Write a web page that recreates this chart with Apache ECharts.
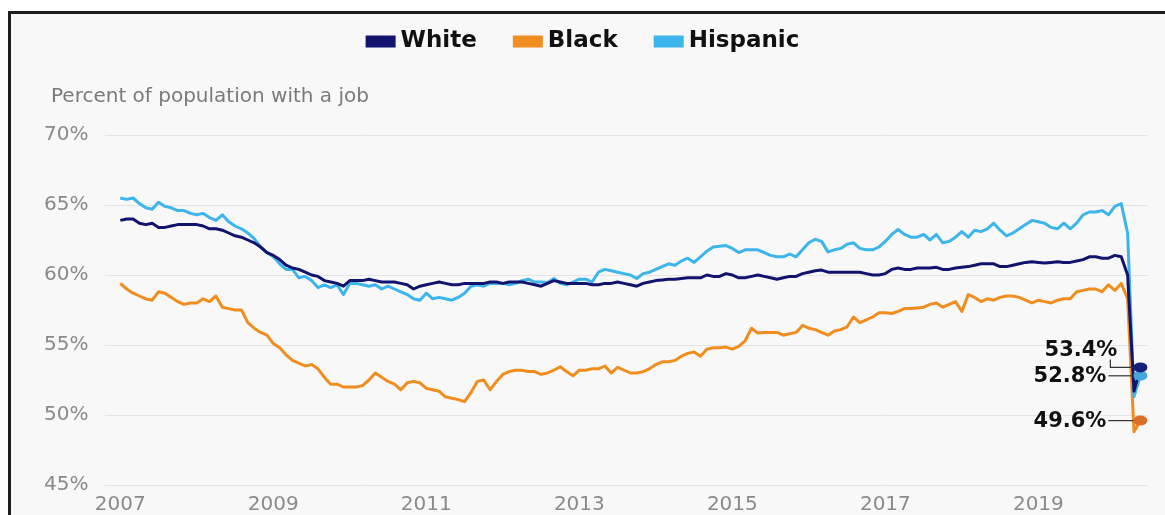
<!DOCTYPE html>
<html>
<head>
<meta charset="utf-8">
<title>Percent of population with a job</title>
<script src="https://cdn.jsdelivr.net/npm/echarts@6/dist/echarts.min.js"></script>
<style>
  html, body { margin: 0; padding: 0; background: #fff; overflow: hidden; }
  #frame {
    position: absolute; left: 8px; top: 11px; width: 1157px; height: 504px;
    box-sizing: border-box;
    background: #f8f8f8;
    border-left: 3px solid #1e1e1e;
    border-top: 3px solid #1e1e1e;
  }
  #chart { position: absolute; left: 0; top: 0; width: 1165px; height: 515px; }
</style>
</head>
<body>
<div id="frame"></div>
<div id="chart"></div>
<script>
  // monthly values, Jan 2007 .. May 2020 (one row per year)
  const firstYear = 2007;
  const tickYears = [2007, 2009, 2011, 2013, 2015, 2017, 2019];

  const white = [
    63.9, 64.0, 64.0, 63.7, 63.6, 63.7, 63.4, 63.4, 63.5, 63.6, 63.6, 63.6,
    63.6, 63.5, 63.3, 63.3, 63.2, 63.0, 62.8, 62.7, 62.5, 62.3, 62.0, 61.6,
    61.4, 61.1, 60.7, 60.5, 60.4, 60.2, 60.0, 59.9, 59.6, 59.5, 59.4, 59.2,
    59.6, 59.6, 59.6, 59.7, 59.6, 59.5, 59.5, 59.5, 59.4, 59.3, 59.0, 59.2,
    59.3, 59.4, 59.5, 59.4, 59.3, 59.3, 59.4, 59.4, 59.4, 59.4, 59.5, 59.5,
    59.4, 59.5, 59.5, 59.5, 59.4, 59.3, 59.2, 59.4, 59.6, 59.5, 59.4, 59.4,
    59.4, 59.4, 59.3, 59.3, 59.4, 59.4, 59.5, 59.4, 59.3, 59.2, 59.4, 59.5,
    59.6, 59.65, 59.7, 59.7, 59.75, 59.8, 59.8, 59.8, 60.0, 59.9, 59.9, 60.1,
    60.0, 59.8, 59.8, 59.9, 60.0, 59.9, 59.8, 59.7, 59.8, 59.9, 59.9, 60.1,
    60.2, 60.3, 60.35, 60.2, 60.2, 60.2, 60.2, 60.2, 60.2, 60.1, 60.0, 60.0,
    60.1, 60.4, 60.5, 60.4, 60.4, 60.5, 60.5, 60.5, 60.55, 60.4, 60.4, 60.5,
    60.55, 60.6, 60.7, 60.8, 60.8, 60.8, 60.6, 60.6, 60.7, 60.8, 60.9, 60.95,
    60.9, 60.85, 60.9, 60.95, 60.9, 60.9, 61.0, 61.1, 61.3, 61.3, 61.2, 61.2,
    61.4, 61.3, 60.0, 51.7, 53.4
  ];

  const black = [
    59.4, 59.0, 58.7, 58.5, 58.3, 58.2, 58.8, 58.7, 58.4, 58.1, 57.9, 58.0,
    58.0, 58.3, 58.1, 58.5, 57.7, 57.6, 57.5, 57.5, 56.6, 56.2, 55.9, 55.7,
    55.1, 54.8, 54.3, 53.9, 53.7, 53.5, 53.6, 53.3, 52.7, 52.2, 52.2, 52.0,
    52.0, 52.0, 52.1, 52.5, 53.0, 52.7, 52.4, 52.2, 51.8, 52.3, 52.4, 52.3,
    51.9, 51.8, 51.7, 51.3, 51.2, 51.1, 50.95, 51.6, 52.4, 52.5, 51.8, 52.4,
    52.9, 53.1, 53.2, 53.2, 53.1, 53.1, 52.9, 53.0, 53.2, 53.45, 53.1, 52.8,
    53.2, 53.2, 53.3, 53.3, 53.5, 53.0, 53.4, 53.2, 53.0, 53.0, 53.1, 53.3,
    53.6, 53.8, 53.8, 53.9, 54.2, 54.4, 54.5, 54.2, 54.7, 54.8, 54.8, 54.85,
    54.7, 54.9, 55.3, 56.2, 55.85, 55.9, 55.9, 55.9, 55.7, 55.8, 55.9, 56.4,
    56.2, 56.1, 55.9, 55.7, 56.0, 56.1, 56.3, 57.0, 56.6, 56.8, 57.0, 57.3,
    57.3, 57.25, 57.4, 57.6, 57.6, 57.65, 57.7, 57.9, 58.0, 57.7, 57.9, 58.1,
    57.4, 58.6, 58.4, 58.1, 58.3, 58.2, 58.4, 58.5, 58.5, 58.4, 58.2, 58.0,
    58.2, 58.1, 58.0, 58.2, 58.3, 58.3, 58.8, 58.9, 59.0, 59.0, 58.8, 59.3,
    58.9, 59.4, 58.3, 48.8, 49.6
  ];

  const hispanic = [
    65.5, 65.4, 65.5, 65.1, 64.8, 64.7, 65.2, 64.9, 64.8, 64.6, 64.6, 64.4,
    64.3, 64.4, 64.1, 63.9, 64.3, 63.8, 63.5, 63.3, 63.0, 62.6, 62.0, 61.6,
    61.3, 60.8, 60.4, 60.4, 59.8, 59.9, 59.6, 59.1, 59.3, 59.1, 59.3, 58.6,
    59.4, 59.4, 59.3, 59.2, 59.3, 59.0, 59.2, 59.0, 58.8, 58.6, 58.3, 58.2,
    58.7, 58.3, 58.4, 58.3, 58.2, 58.4, 58.7, 59.2, 59.3, 59.2, 59.4, 59.4,
    59.4, 59.3, 59.4, 59.6, 59.7, 59.5, 59.5, 59.45, 59.75, 59.4, 59.3, 59.5,
    59.7, 59.7, 59.5, 60.2, 60.4, 60.3, 60.2, 60.1, 60.0, 59.75, 60.1, 60.2,
    60.4, 60.6, 60.8, 60.7, 61.0, 61.2, 60.9, 61.3, 61.7, 62.0, 62.05, 62.1,
    61.9, 61.6, 61.8, 61.8, 61.8, 61.6, 61.4, 61.3, 61.3, 61.5, 61.3, 61.8,
    62.3, 62.55, 62.4, 61.65, 61.8, 61.9, 62.2, 62.3, 61.9, 61.8, 61.8, 62.0,
    62.4, 62.9, 63.25, 62.9, 62.7, 62.7, 62.9, 62.5, 62.9, 62.3, 62.4, 62.7,
    63.1, 62.7, 63.2, 63.1, 63.3, 63.7, 63.2, 62.8, 63.0, 63.3, 63.6, 63.9,
    63.8, 63.7, 63.4, 63.3, 63.7, 63.3, 63.7, 64.3, 64.5, 64.5, 64.6, 64.3,
    64.9, 65.1, 63.0, 51.3, 52.8
  ];

  const colors = { White: '#12136e', Black: '#f08d1e', Hispanic: '#3bb5ec' };
  const dotColors = { White: '#15207e', Black: '#d9702a', Hispanic: '#43a6dc' };
  const font = '"DejaVu Sans", sans-serif';

  function toPoints(values) {
    return values.map((v, i) => [firstYear + i / 12, v]);
  }

  function lastPoint(values) {
    const i = values.length - 1;
    return [firstYear + i / 12, values[i]];
  }

  const chart = echarts.init(document.getElementById('chart'));

  function lineSeries(name, values) {
    return {
      name: name,
      type: 'line',
      data: toPoints(values),
      showSymbol: false,
      symbol: 'none',
      color: colors[name],
      lineStyle: { width: 3, color: colors[name], join: 'round' },
      emphasis: { disabled: true }
    };
  }

  // end dots: hispanic before white so the white dot sits on top
  const ends = [
    { name: 'Black', values: black, elbow: false },
    { name: 'Hispanic', values: hispanic, elbow: false },
    { name: 'White', values: white, elbow: true }
  ];

  chart.setOption({
    animation: false,
    title: {
      text: 'Percent of population with a job',
      left: 46,
      top: 82,
      textStyle: { color: '#7a7a7a', fontSize: 20, fontWeight: 'normal', fontFamily: font }
    },
    legend: {
      data: ['White', 'Black', 'Hispanic'],
      top: 25,
      left: 'center',
      icon: 'rect',
      itemWidth: 30,
      itemHeight: 12,
      itemGap: 36,
      textStyle: { color: '#111', fontSize: 23, fontWeight: 'bold', fontFamily: font }
    },
    grid: { left: 105, right: 18, top: 135, bottom: 30 },
    xAxis: {
      type: 'value',
      min: 2006.8,
      max: 2020.42,
      axisLine: { show: false },
      axisTick: { show: false },
      splitLine: { show: false },
      axisLabel: {
        customValues: tickYears,
        formatter: v => String(v),
        color: '#8a8a8a',
        fontSize: 20,
        fontFamily: font,
        margin: 10
      }
    },
    yAxis: {
      type: 'value',
      min: 45,
      max: 70,
      interval: 5,
      axisLine: { show: false },
      axisTick: { show: false },
      splitLine: { lineStyle: { color: '#e4e4e4', width: 1 } },
      axisLabel: {
        formatter: '{value}%',
        color: '#8a8a8a',
        fontSize: 20,
        fontFamily: font,
        align: 'left',
        margin: 61
      }
    },
    series: [
      lineSeries('Black', black),
      lineSeries('Hispanic', hispanic),
      lineSeries('White', white),
      {
        name: 'Latest',
        type: 'scatter',
        symbolSize: [14, 10],
        z: 5,
        data: ends.map(e => ({
          value: lastPoint(e.values),
          itemStyle: { color: dotColors[e.name], opacity: 1 }
        })),
        emphasis: { disabled: true }
      }
    ]
  });

  // value labels with leader lines, placed from the library's own scale
  const graphics = [];
  ends.forEach(e => {
    const p = lastPoint(e.values);
    const [px, py] = chart.convertToPixel({ gridIndex: 0 }, p);
    const label = p[1].toFixed(1) + '%';
    let tx, ty, pts;
    if (e.elbow) {
      tx = px - 23; ty = py - 17;
      pts = [[px - 30, py - 8], [px - 30, py], [px - 7, py]];
    } else {
      tx = px - 34; ty = py + 1;
      pts = [[px - 32, py], [px - 7, py]];
    }
    graphics.push({
      type: 'polyline',
      shape: { points: pts },
      style: { stroke: '#333', lineWidth: 1.2, fill: null },
      z: 10
    });
    graphics.push({
      type: 'text',
      z: 10,
      style: {
        text: label,
        x: tx,
        y: ty,
        fill: '#111',
        font: 'bold 21px ' + font,
        align: 'right',
        verticalAlign: 'middle'
      }
    });
  });
  chart.setOption({ graphic: graphics });
</script>
</body>
</html>
